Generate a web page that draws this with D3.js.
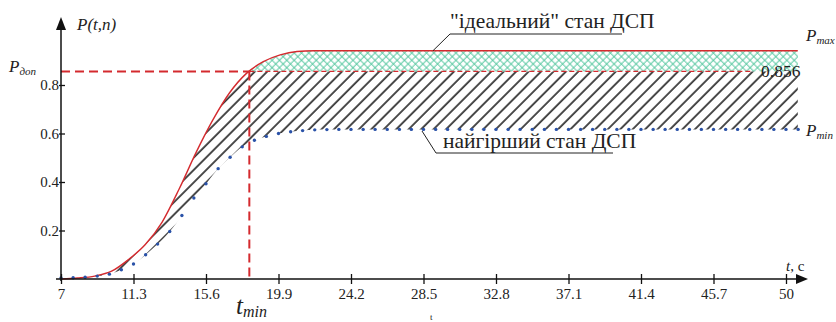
<!DOCTYPE html>
<html>
<head>
<meta charset="utf-8">
<script src="https://cdn.jsdelivr.net/npm/d3@7"></script>
<style>
body { margin: 0; background: #fff; }
svg { display: block; }
svg text { font-family: "Liberation Serif", Tinos, "Times New Roman", "DejaVu Serif", serif !important; fill: #222; }
</style>
</head>
<body>
<svg width="836" height="322"></svg>
<script>
// tick labels
const X_TICKS = [7, 11.3, 15.6, 19.9, 24.2, 28.5, 32.8, 37.1, 41.4, 45.7, 50];
const Y_TICKS = [0.2, 0.4, 0.6, 0.8];

// "ideal" state curve
const IDEAL_T = [7, 8, 9, 10, 11, 12, 13, 14, 15, 16, 17, 18, 19, 20, 21, 22, 50.7];
const IDEAL_P = [0, 0.004, 0.012, 0.032, 0.08, 0.142, 0.235, 0.37, 0.52, 0.655, 0.768, 0.848, 0.896, 0.924, 0.938, 0.941, 0.941];

// worst state (dotted)
const WORST_T = [7.00, 7.72, 8.43, 9.15, 9.87, 10.58, 11.30, 12.02, 12.73, 13.45, 14.17, 14.88, 15.60, 16.32, 17.03, 17.75,
  18.47, 19.18, 19.90, 20.62, 21.33, 22.05, 22.77, 23.48, 24.20, 24.92, 25.63, 26.35, 27.07, 27.78, 28.50, 29.22,
  29.93, 30.65, 31.37, 32.08, 32.80, 33.52, 34.23, 34.95, 35.67, 36.38, 37.10, 37.82, 38.53, 39.25, 39.97, 40.68,
  41.40, 42.12, 42.83, 43.55, 44.27, 44.98, 45.70, 46.42, 47.13, 47.85, 48.57, 49.28, 50.00, 50.72];
const WORST_P = [0.004, 0.005, 0.007, 0.012, 0.02, 0.038, 0.062, 0.1, 0.144, 0.196, 0.262, 0.334, 0.393, 0.455, 0.502, 0.545,
  0.572, 0.588, 0.6, 0.607, 0.612, 0.615, 0.616, 0.617, 0.617, 0.617, 0.617, 0.617, 0.617, 0.617, 0.617, 0.617,
  0.617, 0.617, 0.617, 0.617, 0.617, 0.617, 0.617, 0.617, 0.617, 0.617, 0.617, 0.617, 0.617, 0.617, 0.617, 0.617,
  0.617, 0.617, 0.617, 0.617, 0.617, 0.617, 0.617, 0.617, 0.617, 0.617, 0.617, 0.617, 0.617, 0.617];

const P_DOP = 0.856;
const T_MIN = 18.17;
const T_END = 50.72;

const ideal = IDEAL_T.map((t, i) => ({t: t, p: IDEAL_P[i]}));
const worst = WORST_T.map((t, i) => ({t: t, p: WORST_P[i]}));

const RED = '#d42a2e';
const BLUE = '#2a52a8';
const SERIF = '"Liberation Serif", Tinos, "Times New Roman", "DejaVu Serif", serif';

const svg = d3.select('svg');
const defs = svg.append('defs');

const x = d3.scaleLinear().domain([7, 50]).range([61, 786]);
const y = d3.scaleLinear().domain([0, 1]).range([279, 36.5]);

// patterns
const hatch = defs.append('pattern')
  .attr('id', 'hatch')
  .attr('patternUnits', 'userSpaceOnUse')
  .attr('width', 8.8).attr('height', 8.8)
  .attr('patternTransform', 'rotate(45)');
hatch.append('line')
  .attr('x1', 2).attr('y1', -1).attr('x2', 2).attr('y2', 10)
  .attr('stroke', '#111').attr('stroke-width', 1.5);

const cross = defs.append('pattern')
  .attr('id', 'cross')
  .attr('patternUnits', 'userSpaceOnUse')
  .attr('width', 5.2).attr('height', 5.2)
  .attr('patternTransform', 'rotate(45)');
cross.append('line')
  .attr('x1', 1).attr('y1', -1).attr('x2', 1).attr('y2', 7)
  .attr('stroke', '#4cc49a').attr('stroke-width', 0.9);
cross.append('line')
  .attr('x1', -1).attr('y1', 1).attr('x2', 7).attr('y2', 1)
  .attr('stroke', '#4cc49a').attr('stroke-width', 0.9);

// clip paths
const underIdeal = d3.area()
  .x(d => x(d.t)).y0(y(0)).y1(d => y(d.p))
  .curve(d3.curveMonotoneX);
defs.append('clipPath').attr('id', 'clipIdeal')
  .append('path').attr('d', underIdeal(ideal));

const overWorst = d3.area()
  .x(d => x(d.t)).y0(0).y1(d => y(d.p))
  .curve(d3.curveMonotoneX);
defs.append('clipPath').attr('id', 'clipWorst')
  .append('path').attr('d', overWorst(worst));

// black hatch between curves (below P_доп)
svg.append('g').attr('clip-path', 'url(#clipIdeal)')
  .append('g').attr('clip-path', 'url(#clipWorst)')
  .append('rect')
  .attr('x', x(7)).attr('y', y(P_DOP))
  .attr('width', x(T_END) - x(7)).attr('height', y(0) - y(P_DOP))
  .attr('fill', 'url(#hatch)');

// green cross hatch above P_доп
svg.append('g').attr('clip-path', 'url(#clipIdeal)')
  .append('rect')
  .attr('x', x(T_MIN)).attr('y', 0)
  .attr('width', x(T_END) - x(T_MIN)).attr('height', y(P_DOP))
  .attr('fill', 'url(#cross)');

// ideal curve
svg.append('path')
  .datum(ideal)
  .attr('d', d3.line().x(d => x(d.t)).y(d => y(d.p)).curve(d3.curveMonotoneX))
  .attr('fill', 'none').attr('stroke', RED).attr('stroke-width', 1.4);

// P_доп dashed lines
svg.append('line')
  .attr('x1', x(7)).attr('x2', x(T_MIN)).attr('y1', y(P_DOP)).attr('y2', y(P_DOP))
  .attr('stroke', RED).attr('stroke-width', 2).attr('stroke-dasharray', '9,5');
svg.append('line')
  .attr('x1', x(T_MIN)).attr('x2', 753).attr('y1', y(P_DOP)).attr('y2', y(P_DOP))
  .attr('stroke', RED).attr('stroke-width', 1.3).attr('stroke-dasharray', '5,3');
svg.append('line')
  .attr('x1', x(T_MIN)).attr('x2', x(T_MIN)).attr('y1', y(P_DOP)).attr('y2', y(0))
  .attr('stroke', RED).attr('stroke-width', 2).attr('stroke-dasharray', '9,5');

// worst dots
svg.append('g').selectAll('circle')
  .data(worst)
  .enter()
  .append('circle')
  .attr('cx', d => x(d.t)).attr('cy', d => y(d.p))
  .attr('r', 1.7)
  .attr('fill', BLUE);

// axes
const xAxis = svg.append('g')
  .attr('transform', `translate(0, ${y(0)})`)
  .call(d3.axisBottom(x).tickValues(X_TICKS).tickSize(5).tickFormat(d => String(d)));
xAxis.attr('font-family', SERIF);
xAxis.select('.domain').remove();
xAxis.selectAll('.tick line').attr('y1', -5).attr('stroke', '#111').attr('stroke-width', 1.3);
xAxis.selectAll('.tick text').attr('y', 9).attr('font-size', 15).attr('fill', '#222');

const yAxis = svg.append('g')
  .attr('transform', `translate(${x(7)}, 0)`)
  .call(d3.axisLeft(y).tickValues(Y_TICKS).tickSize(2).tickFormat(d => String(d)));
yAxis.attr('font-family', SERIF);
yAxis.select('.domain').remove();
yAxis.selectAll('.tick line').attr('x2', 4).attr('x1', -2).attr('stroke', '#111').attr('stroke-width', 1.3);
yAxis.selectAll('.tick text').attr('x', -2).attr('font-size', 15).attr('fill', '#222');

svg.append('line')
  .attr('x1', 56).attr('x2', 800).attr('y1', y(0)).attr('y2', y(0))
  .attr('stroke', '#111').attr('stroke-width', 1.5);
svg.append('line')
  .attr('x1', x(7)).attr('x2', x(7)).attr('y1', y(0) + 2).attr('y2', 26)
  .attr('stroke', '#111').attr('stroke-width', 1.5);
svg.append('path')
  .attr('d', `M808,${y(0)} L796,${y(0) - 5} L796,${y(0) + 5} Z`).attr('fill', '#111');
svg.append('path')
  .attr('d', `M${x(7)},17 L${x(7) - 5},30 L${x(7) + 5},30 Z`).attr('fill', '#111');

// labels
function subLabel(xp, yp, main, sub, size, subSize) {
  const t = svg.append('text').attr('x', xp).attr('y', yp)
    .attr('font-style', 'italic').attr('font-size', size);
  t.append('tspan').text(main);
  t.append('tspan').attr('font-size', subSize).attr('dy', 3).text(sub);
  return t;
}
svg.append('text').attr('x', 77).attr('y', 30)
  .attr('font-style', 'italic').attr('font-size', 17).text('P(t,n)');
subLabel(9, 72, 'P', 'доп', 17, 11);
subLabel(806, 41, 'P', 'max', 17, 11);
subLabel(806, 136, 'P', 'min', 17, 11);
subLabel(236, 314, 't', 'min', 25, 16);

svg.append('text').attr('x', 761).attr('y', 77).attr('font-size', 17.5).text('0.856');

const tc = svg.append('text').attr('x', 786).attr('y', 271).attr('font-size', 15);
tc.append('tspan').attr('font-style', 'italic').text('t');
tc.append('tspan').text(', с');

svg.append('text').attr('x', 430).attr('y', 320).attr('font-size', 9).text('t');

// annotation: ideal
svg.append('text').attr('x', 450).attr('y', 28).attr('font-size', 21.5)
  .text('"ідеальний" стан ДСП');
svg.append('polyline')
  .attr('points', '433,50.7 450,34 622,34')
  .attr('fill', 'none').attr('stroke', '#222').attr('stroke-width', 1);

// annotation: worst
svg.append('text').attr('x', 443).attr('y', 148).attr('font-size', 21.5)
  .text('найгірший стан ДСП');
svg.append('polyline')
  .attr('points', '422,131 436,153 613,153')
  .attr('fill', 'none').attr('stroke', '#222').attr('stroke-width', 1);
</script>
</body>
</html>
